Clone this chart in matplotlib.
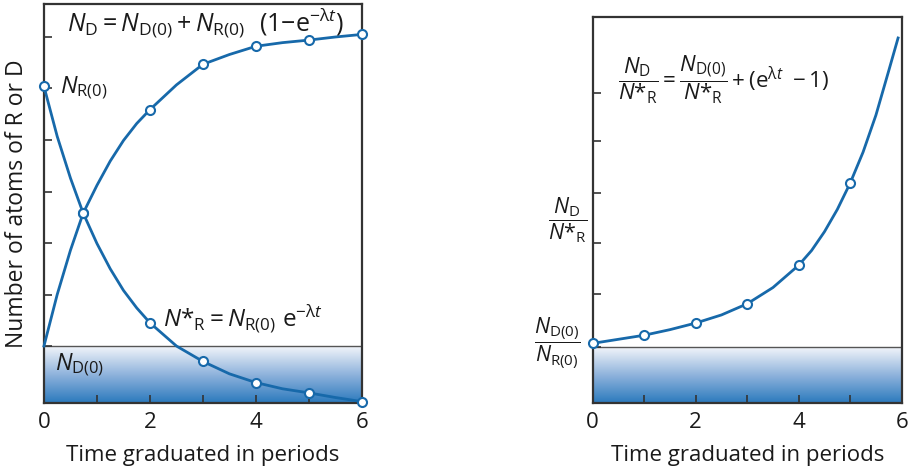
import numpy as np
import matplotlib
matplotlib.use("Agg")
import matplotlib.pyplot as plt
from matplotlib.colors import LinearSegmentedColormap

plt.rcParams['font.family'] = ['Open Sans', 'DejaVu Sans']
plt.rcParams['mathtext.fontset'] = 'custom'
plt.rcParams['mathtext.rm'] = 'Open Sans'
plt.rcParams['mathtext.it'] = 'Open Sans:italic'
plt.rcParams['mathtext.bf'] = 'Open Sans:bold'

# ---- left panel: decay of parent R and growth of daughter D ----
nd0_level = 1.10          # height of the initial daughter amount (shaded band)
left_yticks = [1.1, 2.1, 3.1, 4.1, 5.1, 6.1, 7.1]

# marked points
r_mark_t = [0, 0.74, 2, 3, 4, 5, 6]
r_mark_y = [6.14, 3.68, 1.55, 0.80, 0.39, 0.19, 0.02]
d_mark_t = [0.74, 2, 3, 4, 5, 6]
d_mark_y = [3.68, 5.69, 6.57, 6.92, 7.04, 7.15]

# points along the drawn curves
curve_t = [0, 0.25, 0.5, 0.74, 1, 1.25, 1.5, 1.75, 2, 2.5, 3, 3.5, 4, 4.5, 5, 5.5, 6]
r_curve_y = [6.14, 5.17, 4.36, 3.68, 3.09, 2.60, 2.18, 1.84, 1.55, 1.10, 0.80, 0.56, 0.39, 0.27, 0.19, 0.10, 0.02]
d_curve_y = [1.10, 2.10, 2.96, 3.68, 4.22, 4.69, 5.09, 5.42, 5.69, 6.17, 6.57, 6.76, 6.92, 6.99, 7.04, 7.10, 7.15]

# ---- right panel: ratio D / R* ----
ratio_level = 1.10
right_yticks = [1.1, 2.14, 3.14, 4.14, 5.15, 6.1]
ratio_mark_t = [0, 1, 2, 3, 4, 5]
ratio_mark_y = [1.17, 1.33, 1.57, 1.95, 2.71, 4.33]
ratio_curve_t = [0, 0.5, 1, 1.5, 2, 2.5, 3, 3.5, 4, 4.25, 4.5, 4.75, 5, 5.25, 5.5, 5.75, 5.93]
ratio_curve_y = [1.17, 1.25, 1.33, 1.44, 1.57, 1.73, 1.95, 2.27, 2.71, 3.00, 3.37, 3.81, 4.33, 4.94, 5.67, 6.55, 7.19]

xticks = [0, 1, 2, 3, 4, 5, 6]
xticklabels = ['0', '', '2', '', '4', '', '6']

blue = '#1769aa'
spine_col = '#333333'
text_col = '#1a1a1a'
grad = LinearSegmentedColormap.from_list('band', ['#2b7abd', '#8fb3dc', '#f2f5fa'])

fig = plt.figure(figsize=(9.12, 4.67), dpi=100)
ax1 = fig.add_axes([0.0482, 0.1377, 0.3487, 0.8537])
ax2 = fig.add_axes([0.6499, 0.1377, 0.3388, 0.8266])


def style_axes(ax, top, band, yticks):
    ax.set_xlim(0, 6)
    ax.set_ylim(0, top)
    img = np.linspace(0, 1, 256).reshape(-1, 1)
    ax.imshow(img, cmap=grad, extent=[0, 6, 0, band], origin='lower',
              aspect='auto', zorder=0)
    ax.axhline(band, color='#555555', lw=1.0, zorder=1)
    for s in ax.spines.values():
        s.set_color(spine_col)
        s.set_linewidth(1.6)
    ax.set_xticks(xticks)
    ax.set_xticklabels(xticklabels)
    ax.set_yticks(yticks)
    ax.set_yticklabels([])
    ax.tick_params(direction='in', length=6, width=1.2, colors=spine_col,
                   labelsize=16, labelcolor=text_col, pad=7)
    ax.set_xlabel('Time graduated in periods', fontsize=16, color=text_col, labelpad=8)


style_axes(ax1, 7.74, nd0_level, left_yticks)
style_axes(ax2, 7.61, ratio_level, right_yticks)

mk = dict(marker='o', markersize=6.5, markerfacecolor='white',
          markeredgecolor=blue, markeredgewidth=1.5, linestyle='none', zorder=4,
          clip_on=False)

ax1.plot(curve_t, r_curve_y, color=blue, lw=2, zorder=3, clip_on=False)
ax1.plot(curve_t, d_curve_y, color=blue, lw=2, zorder=3, clip_on=False)
ax1.plot(r_mark_t, r_mark_y, **mk)
ax1.plot(d_mark_t, d_mark_y, **mk)
ax1.set_ylabel('Number of atoms of R or D', fontsize=16.5, color=text_col, labelpad=4)

lam = r'\mathrm{\lambda}'
ax1.text(3.04, 7.37, r'$N_{\mathrm{D}} = N_{\mathrm{D(0)}} + N_{\mathrm{R(0)}}\ \ (1\mathrm{-e}^{-' + lam + r't})$',
         fontsize=18, ha='center', va='center', color=text_col)
ax1.text(0.30, 6.11, r'$N_{\mathrm{R(0)}}$', fontsize=17, ha='left', va='center', color=text_col)
ax1.text(2.25, 1.64, r'$N{*}_{\mathrm{R}} = N_{\mathrm{R(0)}}\ \mathrm{e}^{-' + lam + r't}$',
         fontsize=17.5, ha='left', va='center', color=text_col)
ax1.text(0.21, 0.73, r'$N_{\mathrm{D(0)}}$', fontsize=17, ha='left', va='center', color=text_col)

ax2.plot(ratio_curve_t, ratio_curve_y, color=blue, lw=2, zorder=3, clip_on=False)
ax2.plot(ratio_mark_t, ratio_mark_y, **mk)

ax2.text(0.49, 6.36,
         r'$\dfrac{N_{\mathrm{D}}}{N{*}_{\mathrm{R}}} = \dfrac{N_{\mathrm{D(0)}}}{N{*}_{\mathrm{R}}} + (\mathrm{e}^{' + lam + r't}\ -1)$',
         fontsize=16, ha='left', va='center', color=text_col)
ax2.text(-0.48, 3.60, r'$\dfrac{N_{\mathrm{D}}}{N{*}_{\mathrm{R}}}$', fontsize=15.5,
         ha='center', va='center', color=text_col, clip_on=False)
ax2.text(-0.70, 1.18, r'$\dfrac{N_{\mathrm{D(0)}}}{N_{\mathrm{R(0)}}}$', fontsize=15.5,
         ha='center', va='center', color=text_col, clip_on=False)

fig.savefig('out.png', dpi=100)
